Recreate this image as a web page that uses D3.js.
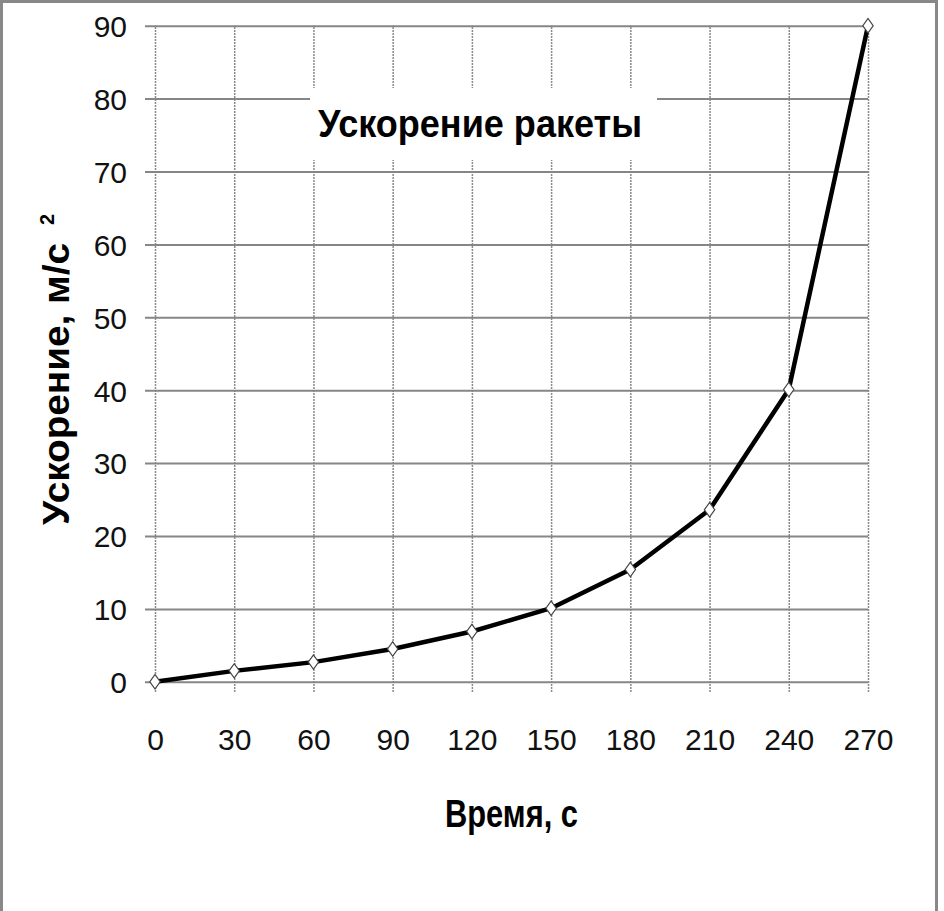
<!DOCTYPE html>
<html>
<head>
<meta charset="utf-8">
<script src="https://cdn.jsdelivr.net/npm/d3@7"></script>
<style>
  body { margin: 0; background: #fff; }
  svg { display: block; }
</style>
</head>
<body>
<div id="chart"></div>
<script>
// Данные графика
var times = [0, 30, 60, 90, 120, 150, 180, 210, 240, 270];
var accel = [0, 1.5, 2.7, 4.5, 6.9, 10.1, 15.4, 23.6, 40.1, 90];
var xTicks = [0, 30, 60, 90, 120, 150, 180, 210, 240, 270];
var yTicks = [0, 10, 20, 30, 40, 50, 60, 70, 80, 90];

var font = "'Liberation Sans Narrow', 'Liberation Sans', sans-serif";

function drawChart() {
    var W = 944, H = 911;

    var x = d3.scaleLinear().domain([0, 270]).range([155, 868]);
    var y = d3.scaleLinear().domain([0, 90]).range([681.8, 25.7]);

    var svg = d3.select("#chart")
        .append("svg")
        .attr("width", W)
        .attr("height", H);

    // рамка
    svg.append("rect")
        .attr("x", 1.5).attr("y", 1.5)
        .attr("width", 935).attr("height", 925)
        .attr("fill", "#fff")
        .attr("stroke", "#888")
        .attr("stroke-width", 3);

    // вертикальная сетка + подписи оси X
    var xAxis = d3.axisBottom(x)
        .tickValues(xTicks)
        .tickSize(-(692 - 25.7))
        .tickSizeOuter(0)
        .tickPadding(0);

    var gx = svg.append("g")
        .attr("transform", "translate(0,692)")
        .call(xAxis);
    gx.select(".domain").remove();
    gx.selectAll(".tick line")
        .attr("stroke", "#8a8a8a")
        .attr("stroke-width", 1.5)
        .attr("stroke-dasharray", "2,1");
    gx.selectAll(".tick text")
        .attr("y", 58)
        .attr("dy", 0)
        .attr("fill", "#111")
        .style("font-family", font)
        .style("font-size", "30px");

    // горизонтальная сетка + подписи оси Y
    var yAxis = d3.axisLeft(y)
        .tickValues(yTicks)
        .tickSize(-(868 - 145))
        .tickSizeOuter(0)
        .tickPadding(18);

    var gy = svg.append("g")
        .attr("transform", "translate(145,0)")
        .call(yAxis);
    gy.select(".domain").remove();
    gy.selectAll(".tick line")
        .attr("stroke", "#868686")
        .attr("stroke-width", 2);
    gy.selectAll(".tick text")
        .attr("fill", "#111")
        .attr("dy", "0.36em")
        .style("font-family", font)
        .style("font-size", "30px");

    // заголовок с белым фоном
    svg.append("rect")
        .attr("x", 310).attr("y", 88)
        .attr("width", 347).attr("height", 72)
        .attr("fill", "#fff");

    svg.append("text")
        .attr("x", 318)
        .attr("y", 137)
        .attr("textLength", 324)
        .attr("lengthAdjust", "spacingAndGlyphs")
        .style("font-family", font)
        .style("font-size", "39px")
        .style("font-weight", "bold")
        .text("Ускорение ракеты");

    // линия
    var line = d3.line()
        .x(function (d, i) { return x(times[i]); })
        .y(function (d) { return y(d); });

    svg.append("path")
        .datum(accel)
        .attr("d", line)
        .attr("fill", "none")
        .attr("stroke", "#000")
        .attr("stroke-width", 4.5)
        .attr("stroke-linejoin", "round");

    // маркеры
    svg.selectAll(".marker")
        .data(accel)
        .enter()
        .append("path")
        .attr("class", "marker")
        .attr("d", d3.symbol().type(d3.symbolDiamond).size(60))
        .attr("transform", function (d, i) {
            return "translate(" + x(times[i]) + "," + y(d) + ") scale(1.25,1)";
        })
        .attr("fill", "#fff")
        .attr("stroke", "#444")
        .attr("stroke-width", 1);

    // подпись оси X
    svg.append("text")
        .attr("x", 445)
        .attr("y", 827)
        .attr("textLength", 133)
        .attr("lengthAdjust", "spacingAndGlyphs")
        .style("font-family", font)
        .style("font-size", "38px")
        .style("font-weight", "bold")
        .text("Время, с");

    // подпись оси Y
    var yl = svg.append("g")
        .attr("transform", "translate(69,525) rotate(-90)");
    yl.append("text")
        .attr("x", 0)
        .attr("y", 0)
        .attr("textLength", 282)
        .attr("lengthAdjust", "spacingAndGlyphs")
        .style("font-family", font)
        .style("font-size", "36px")
        .style("font-weight", "bold")
        .text("Ускорение, м/с");
    yl.append("text")
        .attr("x", 300)
        .attr("y", -15)
        .style("font-family", font)
        .style("font-size", "20px")
        .style("font-weight", "bold")
        .text("2");
}

drawChart();
</script>
</body>
</html>
